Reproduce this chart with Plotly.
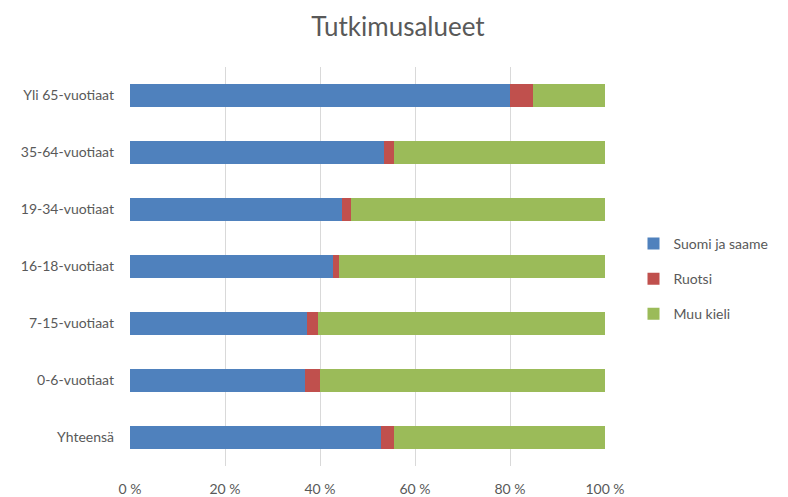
import plotly.graph_objects as go

# Data (percent shares)
categories = [
    "Yhteensä",
    "0-6-vuotiaat",
    "7-15-vuotiaat",
    "16-18-vuotiaat",
    "19-34-vuotiaat",
    "35-64-vuotiaat",
    "Yli 65-vuotiaat",
]
suomi_ja_saame = [52.8, 36.9, 37.3, 42.8, 44.7, 53.4, 80.0]
ruotsi = [2.7, 3.2, 2.3, 1.1, 1.9, 2.2, 4.8]
muu_kieli = [44.5, 59.9, 60.4, 56.1, 53.4, 44.4, 15.2]

tick_vals = [0, 20, 40, 60, 80, 100]
tick_text = ["0 %", "20 %", "40 %", "60 %", "80 %", "100 %"]

# Colors
BLUE = "#4f81bd"
RED = "#c0504d"
GREEN = "#9bbb59"
TEXT = "#595959"
GRID = "#d9d9d9"
FONT = "Lato"

series = [
    ("Suomi ja saame", suomi_ja_saame, BLUE),
    ("Ruotsi", ruotsi, RED),
    ("Muu kieli", muu_kieli, GREEN),
]

fig = go.Figure()
for name, values, color in series:
    fig.add_trace(
        go.Bar(
            y=categories,
            x=values,
            name=name,
            orientation="h",
            marker=dict(color=color, line=dict(width=0)),
            legendgroup=name,
            hoverinfo="x+name",
        )
    )

# page body has an 8px margin, so the figure is sized 8px smaller each way
fig.update_layout(
    width=780,
    height=489,
    barmode="stack",
    bargap=0.6,
    plot_bgcolor="white",
    paper_bgcolor="white",
    margin=dict(l=122, r=183, t=59, b=31, autoexpand=False),
    font=dict(family=FONT, size=14, color=TEXT),
    title=dict(
        text="Tutkimusalueet",
        x=0.5,
        xref="container",
        xanchor="center",
        y=0.961,
        yref="container",
        yanchor="middle",
        font=dict(family=FONT, size=26, color=TEXT),
    ),
    legend=dict(
        x=1.06,
        y=0.469,
        yanchor="middle",
        xanchor="left",
        traceorder="grouped",
        tracegroupgap=14,
        font=dict(family=FONT, size=14, color=TEXT),
    ),
    showlegend=True,
)

fig.update_xaxes(
    range=[0, 100],
    tickvals=tick_vals,
    ticktext=tick_text,
    showgrid=True,
    gridcolor=GRID,
    gridwidth=1,
    zeroline=False,
    showline=False,
    ticks="",
    ticklabelstandoff=13,
    automargin=False,
    tickfont=dict(family=FONT, size=14, color=TEXT),
)
fig.update_yaxes(
    categoryorder="array",
    categoryarray=categories,
    showgrid=False,
    zeroline=False,
    showline=False,
    ticks="",
    ticklabelstandoff=15,
    automargin=False,
    tickfont=dict(family=FONT, size=14, color=TEXT),
)

fig.write_html("out.html")
